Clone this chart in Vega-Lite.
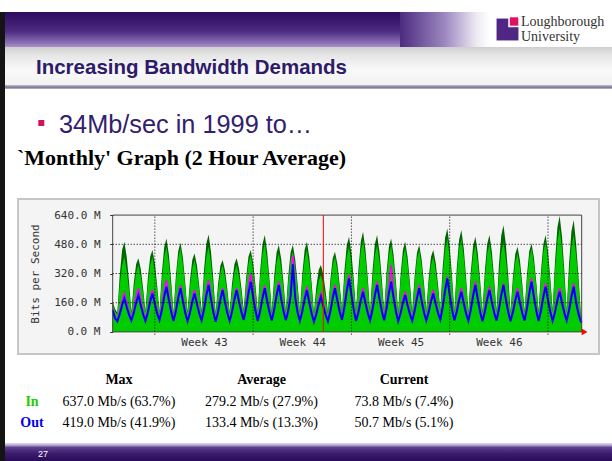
{
"$schema": "https://vega.github.io/schema/vega-lite/v6.json",
"background": "#ffffff",
"padding": {"left": 0, "top": 12, "right": 0, "bottom": 0},
"config": {"view": {"stroke": null}, "concat": {"spacing": 0}},
"spacing": 0,
"hconcat": [
 {"width": 5, "height": 449, "view": {"fill": "#141414", "stroke": null}, "data": {"values": []}, "mark": "point"},
 {"spacing": 0, "vconcat": [
  {"spacing": 0, "hconcat": [
   {"width": 395, "height": 35, "view": {"stroke": null, "fill": {"gradient": "linear", "x1": 0, "y1": 0, "x2": 0, "y2": 1, "stops": [{"offset": 0, "color": "#2c0b5e"}, {"offset": 0.55, "color": "#4c2b80"}, {"offset": 0.88, "color": "#8b70b6"}, {"offset": 1, "color": "#a892c8"}]}}, "data": {"values": []}, "mark": "point"},
   {"width": 90, "height": 35, "view": {"stroke": null, "fill": {"gradient": "linear", "x1": 0, "y1": 0, "x2": 1, "y2": 0, "stops": [{"offset": 0, "color": "#4c2b80"}, {"offset": 0.5, "color": "#9d88c0"}, {"offset": 0.85, "color": "#eeeaf3"}, {"offset": 1, "color": "#ffffff"}]}}, "data": {"values": []}, "mark": "point"},
   {"width": 122, "height": 35, "view": {"stroke": null, "fill": "#ffffff"}, "data": {"values": [{"a": "Loughborough", "b": "University"}]}, "layer": [
     {"mark": {"type": "point", "shape": "square", "filled": true, "size": 480, "color": "#4f2683", "opacity": 1}, "encoding": {"x": {"value": 17.5}, "y": {"value": 17.5}}},
     {"mark": {"type": "point", "shape": "square", "filled": true, "size": 110, "color": "#ffffff", "opacity": 1}, "encoding": {"x": {"value": 23.5}, "y": {"value": 10}}},
     {"mark": {"type": "point", "shape": "square", "filled": true, "size": 70, "color": "#e0115f", "opacity": 1}, "encoding": {"x": {"value": 24}, "y": {"value": 9.5}}},
     {"mark": {"type": "text", "font": "Liberation Serif", "fontSize": 14, "color": "#333333", "align": "left", "baseline": "middle"}, "encoding": {"text": {"field": "a"}, "x": {"value": 31}, "y": {"value": 10}}},
     {"mark": {"type": "text", "font": "Liberation Serif", "fontSize": 14, "color": "#333333", "align": "left", "baseline": "middle"}, "encoding": {"text": {"field": "b"}, "x": {"value": 31}, "y": {"value": 25}}}
   ]}
  ]},
  {"width": 607, "height": 42, "view": {"stroke": null, "fill": {"gradient": "linear", "x1": 0, "y1": 0, "x2": 0, "y2": 1, "stops": [{"offset": 0, "color": "#cfcfcf"}, {"offset": 0.2, "color": "#e6e6e6"}, {"offset": 0.55, "color": "#f9f9f9"}, {"offset": 0.9, "color": "#f2f2f2"}, {"offset": 0.92, "color": "#a9a3bd"}, {"offset": 0.97, "color": "#7d7899"}, {"offset": 1, "color": "#c9c6d6"}]}},
   "data": {"values": [{"s": "Increasing Bandwidth Demands"}]},
   "mark": {"type": "text", "font": "Liberation Sans", "fontWeight": "bold", "fontSize": 20.5, "color": "#2d1b69", "align": "left", "baseline": "middle"},
   "encoding": {"text": {"field": "s"}, "x": {"value": 31}, "y": {"value": 21}}},
  {"width": 607, "height": 105, "view": {"stroke": null, "fill": "#ffffff"}, "data": {"values": [{"a": "34Mb/sec in 1999 to…", "b": "`Monthly' Graph (2 Hour Average)"}]}, "layer": [
    {"mark": {"type": "point", "shape": "square", "filled": true, "size": 36, "color": "#d0135f", "opacity": 1}, "encoding": {"x": {"value": 36.3}, "y": {"value": 34}}},
    {"mark": {"type": "text", "font": "Liberation Sans", "fontSize": 25.3, "color": "#32206e", "align": "left", "baseline": "alphabetic"}, "encoding": {"text": {"field": "a"}, "x": {"value": 54}, "y": {"value": 44}}},
    {"mark": {"type": "text", "font": "Liberation Serif", "fontWeight": "bold", "fontSize": 22, "color": "#000000", "align": "left", "baseline": "alphabetic"}, "encoding": {"text": {"field": "b"}, "x": {"value": 12}, "y": {"value": 76}}}
  ]},
  {"width": 607, "height": 168,
   "data": {"values": [
{"t":0,"i":150,"p":165,"o":118,"q":125},{"t":0.17,"i":110,"p":125,"o":75,"q":80},{"t":0.33,"i":95,"p":105,"o":58,"q":63},{"t":0.5,"i":254,"p":310,"o":96,"q":109},{"t":0.67,"i":364,"p":449,"o":146,"q":170},{"t":0.83,"i":412,"p":494,"o":184,"q":211},
{"t":1,"i":334,"p":411,"o":135,"q":156},{"t":1.17,"i":225,"p":270,"o":93,"q":105},{"t":1.33,"i":100,"p":110,"o":62,"q":67},{"t":1.5,"i":233,"p":267,"o":104,"q":120},{"t":1.67,"i":326,"p":372,"o":160,"q":191},{"t":1.83,"i":366,"p":403,"o":202,"q":239},
{"t":2,"i":301,"p":344,"o":145,"q":172},{"t":2.17,"i":209,"p":236,"o":96,"q":110},{"t":2.33,"i":105,"p":115,"o":60,"q":65},{"t":2.5,"i":259,"p":293,"o":105,"q":116},{"t":2.67,"i":366,"p":412,"o":166,"q":184},{"t":2.83,"i":412,"p":449,"o":211,"q":230},
{"t":3,"i":334,"p":377,"o":152,"q":168},{"t":3.17,"i":225,"p":252,"o":101,"q":111},{"t":3.33,"i":100,"p":110,"o":64,"q":69},{"t":3.5,"i":284,"p":322,"o":119,"q":135},{"t":3.67,"i":412,"p":465,"o":193,"q":223},{"t":3.83,"i":467,"p":512,"o":248,"q":284},
{"t":4,"i":374,"p":423,"o":173,"q":200},{"t":4.17,"i":244,"p":274,"o":107,"q":121},{"t":4.33,"i":95,"p":105,"o":60,"q":65},{"t":4.5,"i":277,"p":308,"o":114,"q":124},{"t":4.67,"i":404,"p":445,"o":185,"q":201},{"t":4.83,"i":458,"p":489,"o":239,"q":255},
{"t":5,"i":369,"p":407,"o":167,"q":182},{"t":5.17,"i":243,"p":267,"o":103,"q":112},{"t":5.33,"i":100,"p":110,"o":58,"q":63},{"t":5.5,"i":247,"p":280,"o":104,"q":115},{"t":5.67,"i":350,"p":396,"o":165,"q":183},{"t":5.83,"i":394,"p":430,"o":211,"q":230},
{"t":6,"i":322,"p":364,"o":151,"q":167},{"t":6.17,"i":221,"p":247,"o":99,"q":109},{"t":6.33,"i":105,"p":115,"o":62,"q":67},{"t":6.5,"i":286,"p":335,"o":121,"q":134},{"t":6.67,"i":413,"p":485,"o":199,"q":223},{"t":6.83,"i":467,"p":534,"o":257,"q":284},
{"t":7,"i":374,"p":439,"o":177,"q":198},{"t":7.17,"i":244,"p":283,"o":106,"q":118},{"t":7.33,"i":95,"p":105,"o":56,"q":61},{"t":7.5,"i":231,"p":260,"o":108,"q":116},{"t":7.67,"i":325,"p":364,"o":177,"q":190},{"t":7.83,"i":366,"p":394,"o":229,"q":240},
{"t":8,"i":300,"p":336,"o":161,"q":173},{"t":8.17,"i":206,"p":229,"o":102,"q":110},{"t":8.33,"i":100,"p":110,"o":60,"q":65},{"t":8.5,"i":233,"p":267,"o":111,"q":119},{"t":8.67,"i":326,"p":372,"o":178,"q":191},{"t":8.83,"i":366,"p":403,"o":229,"q":240},
{"t":9,"i":302,"p":345,"o":164,"q":176},{"t":9.17,"i":212,"p":239,"o":107,"q":115},{"t":9.33,"i":110,"p":120,"o":66,"q":71},{"t":9.5,"i":266,"p":295,"o":129,"q":148},{"t":9.67,"i":374,"p":413,"o":212,"q":249},{"t":9.83,"i":421,"p":449,"o":275,"q":321},
{"t":10,"i":342,"p":378,"o":189,"q":222},{"t":10.17,"i":231,"p":254,"o":114,"q":131},{"t":10.33,"i":105,"p":115,"o":60,"q":65},{"t":10.5,"i":295,"p":333,"o":114,"q":124},{"t":10.67,"i":428,"p":482,"o":185,"q":201},{"t":10.83,"i":485,"p":531,"o":239,"q":255},
{"t":11,"i":389,"p":439,"o":168,"q":183},{"t":11.17,"i":254,"p":284,"o":106,"q":115},{"t":11.33,"i":100,"p":110,"o":62,"q":67},{"t":11.5,"i":265,"p":303,"o":121,"q":131},{"t":11.67,"i":381,"p":435,"o":199,"q":217},{"t":11.83,"i":430,"p":476,"o":257,"q":275},
{"t":12,"i":349,"p":399,"o":180,"q":196},{"t":12.17,"i":235,"p":265,"o":112,"q":122},{"t":12.33,"i":105,"p":115,"o":64,"q":69},{"t":12.5,"i":273,"p":306,"o":115,"q":125},{"t":12.67,"i":390,"p":436,"o":195,"q":220},{"t":12.83,"i":440,"p":476,"o":370,"q":419},
{"t":13,"i":355,"p":397,"o":185,"q":210},{"t":13.17,"i":236,"p":262,"o":105,"q":115},{"t":13.33,"i":100,"p":110,"o":60,"q":65},{"t":13.5,"i":275,"p":313,"o":111,"q":122},{"t":13.67,"i":397,"p":450,"o":178,"q":196},{"t":13.83,"i":449,"p":494,"o":229,"q":248},
{"t":14,"i":361,"p":410,"o":160,"q":176},{"t":14.17,"i":237,"p":267,"o":99,"q":109},{"t":14.33,"i":95,"p":105,"o":56,"q":61},{"t":14.5,"i":204,"p":246,"o":97,"q":107},{"t":14.67,"i":279,"p":340,"o":152,"q":170},{"t":14.83,"i":312,"p":366,"o":193,"q":211},
{"t":15,"i":259,"p":315,"o":139,"q":155},{"t":15.17,"i":185,"p":219,"o":92,"q":102},{"t":15.33,"i":100,"p":110,"o":58,"q":63},{"t":15.5,"i":256,"p":285,"o":112,"q":122},{"t":15.67,"i":365,"p":403,"o":185,"q":203},{"t":15.83,"i":412,"p":439,"o":239,"q":257},
{"t":16,"i":337,"p":372,"o":170,"q":186},{"t":16.17,"i":231,"p":254,"o":109,"q":119},{"t":16.33,"i":110,"p":120,"o":66,"q":71},{"t":16.5,"i":289,"p":332,"o":134,"q":145},{"t":16.67,"i":413,"p":475,"o":225,"q":243},{"t":16.83,"i":467,"p":522,"o":293,"q":312},
{"t":17,"i":377,"p":433,"o":200,"q":216},{"t":17.17,"i":250,"p":284,"o":118,"q":128},{"t":17.33,"i":105,"p":115,"o":60,"q":65},{"t":17.5,"i":304,"p":342,"o":108,"q":119},{"t":17.67,"i":443,"p":497,"o":172,"q":190},{"t":17.83,"i":503,"p":549,"o":220,"q":239},
{"t":18,"i":402,"p":452,"o":157,"q":173},{"t":18.17,"i":261,"p":291,"o":102,"q":112},{"t":18.33,"i":100,"p":110,"o":62,"q":67},{"t":18.5,"i":288,"p":331,"o":121,"q":131},{"t":18.67,"i":420,"p":482,"o":199,"q":217},{"t":18.83,"i":476,"p":531,"o":257,"q":275},
{"t":19,"i":383,"p":439,"o":180,"q":196},{"t":19.17,"i":253,"p":287,"o":112,"q":122},{"t":19.33,"i":105,"p":115,"o":64,"q":69},{"t":19.5,"i":291,"p":324,"o":127,"q":147},{"t":19.67,"i":420,"p":466,"o":212,"q":247},{"t":19.83,"i":476,"p":512,"o":275,"q":366},
{"t":20,"i":382,"p":424,"o":188,"q":217},{"t":20.17,"i":250,"p":276,"o":112,"q":127},{"t":20.33,"i":100,"p":110,"o":58,"q":63},{"t":20.5,"i":279,"p":312,"o":101,"q":111},{"t":20.67,"i":404,"p":450,"o":159,"q":177},{"t":20.83,"i":458,"p":494,"o":202,"q":220},
{"t":21,"i":369,"p":411,"o":145,"q":161},{"t":21.17,"i":243,"p":269,"o":96,"q":106},{"t":21.33,"i":100,"p":110,"o":60,"q":65},{"t":21.5,"i":275,"p":304,"o":114,"q":124},{"t":21.67,"i":397,"p":435,"o":185,"q":203},{"t":21.83,"i":449,"p":476,"o":239,"q":257},
{"t":22,"i":363,"p":398,"o":168,"q":184},{"t":22.17,"i":243,"p":266,"o":106,"q":116},{"t":22.33,"i":105,"p":115,"o":62,"q":67},{"t":22.5,"i":259,"p":293,"o":107,"q":118},{"t":22.67,"i":366,"p":412,"o":166,"q":184},{"t":22.83,"i":412,"p":449,"o":211,"q":230},
{"t":23,"i":337,"p":380,"o":153,"q":169},{"t":23.17,"i":231,"p":258,"o":102,"q":112},{"t":23.33,"i":110,"p":120,"o":66,"q":71},{"t":23.5,"i":311,"p":354,"o":134,"q":142},{"t":23.67,"i":452,"p":514,"o":225,"q":236},{"t":23.83,"i":512,"p":567,"o":293,"q":302},
{"t":24,"i":410,"p":466,"o":201,"q":211},{"t":24.17,"i":268,"p":302,"o":120,"q":127},{"t":24.33,"i":105,"p":115,"o":62,"q":67},{"t":24.5,"i":309,"p":347,"o":109,"q":120},{"t":24.67,"i":451,"p":505,"o":173,"q":191},{"t":24.83,"i":512,"p":558,"o":220,"q":239},
{"t":25,"i":409,"p":459,"o":156,"q":172},{"t":25.17,"i":265,"p":295,"o":100,"q":110},{"t":25.33,"i":100,"p":110,"o":60,"q":65},{"t":25.5,"i":288,"p":326,"o":119,"q":129},{"t":25.67,"i":420,"p":474,"o":198,"q":216},{"t":25.83,"i":476,"p":522,"o":257,"q":275},
{"t":26,"i":382,"p":432,"o":177,"q":193},{"t":26.17,"i":250,"p":280,"o":108,"q":118},{"t":26.33,"i":100,"p":110,"o":58,"q":63},{"t":26.5,"i":293,"p":331,"o":109,"q":120},{"t":26.67,"i":427,"p":481,"o":178,"q":196},{"t":26.83,"i":485,"p":531,"o":229,"q":248},
{"t":27,"i":390,"p":440,"o":162,"q":178},{"t":27.17,"i":257,"p":287,"o":104,"q":114},{"t":27.33,"i":105,"p":115,"o":62,"q":67},{"t":27.5,"i":300,"p":361,"o":121,"q":129},{"t":27.67,"i":436,"p":528,"o":199,"q":210},{"t":27.83,"i":494,"p":585,"o":257,"q":266},
{"t":28,"i":396,"p":479,"o":177,"q":187},{"t":28.17,"i":258,"p":306,"o":108,"q":115},{"t":28.33,"i":100,"p":110,"o":58,"q":63},{"t":28.5,"i":265,"p":299,"o":107,"q":118},{"t":28.67,"i":381,"p":427,"o":171,"q":189},{"t":28.83,"i":430,"p":467,"o":220,"q":239},
{"t":29,"i":349,"p":392,"o":157,"q":173},{"t":29.17,"i":235,"p":262,"o":102,"q":112},{"t":29.33,"i":105,"p":115,"o":62,"q":67},{"t":29.5,"i":282,"p":311,"o":126,"q":136},{"t":29.67,"i":405,"p":443,"o":211,"q":229},{"t":29.83,"i":458,"p":485,"o":275,"q":293},
{"t":30,"i":370,"p":405,"o":189,"q":205},{"t":30.17,"i":246,"p":269,"o":114,"q":124},{"t":30.33,"i":105,"p":115,"o":60,"q":65},{"t":30.5,"i":300,"p":334,"o":116,"q":126},{"t":30.67,"i":436,"p":482,"o":192,"q":210},{"t":30.83,"i":494,"p":531,"o":248,"q":266},
{"t":31,"i":398,"p":441,"o":173,"q":189},{"t":31.17,"i":264,"p":291,"o":107,"q":117},{"t":31.33,"i":110,"p":120,"o":60,"q":65},{"t":31.5,"i":339,"p":389,"o":108,"q":119},{"t":31.67,"i":498,"p":573,"o":172,"q":190},{"t":31.83,"i":567,"p":637,"o":220,"q":239},
{"t":32,"i":452,"p":520,"o":157,"q":173},{"t":32.17,"i":290,"p":330,"o":102,"q":112},{"t":32.33,"i":105,"p":115,"o":62,"q":67},{"t":32.5,"i":318,"p":374,"o":118,"q":128},{"t":32.67,"i":467,"p":552,"o":192,"q":210},{"t":32.83,"i":531,"p":613,"o":248,"q":266},
{"t":33,"i":420,"p":485,"o":160,"q":175},{"t":33.17,"i":270,"p":305,"o":100,"q":110},{"t":33.33,"i":100,"p":112,"o":58,"q":63},{"t":33.4,"i":74,"p":82,"o":51,"q":55}
   ]},
   "layer": [
    {"data": {"values": [{}]}, "mark": {"type": "rect", "fill": "#f4f4f4", "stroke": "#c6c6c6", "strokeWidth": 2},
     "encoding": {
      "x": {"datum": -6.744, "type": "quantitative", "scale": {"domain": [0, 33.4], "range": [107.7, 576.7], "nice": false, "zero": false},
            "axis": {"title": null, "orient": "bottom", "offset": -30.1, "values": [6.5, 13.5, 20.5, 27.5], "labelExpr": "'Week ' + round(42 + (datum.value + 0.5) / 7)", "domain": false, "ticks": false, "grid": false, "labelPadding": 5, "labelFont": "DejaVu Sans Mono", "labelFontSize": 11, "labelColor": "#333333", "zindex": 1}},
      "x2": {"datum": 34.632},
      "y": {"datum": 728.2, "type": "quantitative", "scale": {"domain": [0, 640], "range": [137.9, 21.1], "nice": false, "zero": false},
            "axis": {"title": "Bits per Second", "orient": "left", "offset": -107.7, "values": [0, 160, 320, 480, 640], "labelExpr": "format(datum.value, '.1f') + ' M'", "domain": false, "grid": false, "tickSize": 3, "tickColor": "#333333", "labelPadding": 9.7, "labelFont": "DejaVu Sans Mono", "labelFontSize": 11, "labelColor": "#333333", "titleFont": "DejaVu Sans Mono", "titleFontSize": 11, "titleFontWeight": "normal", "titleColor": "#333333", "titleX": -77, "titleBaseline": "middle", "zindex": 1}},
      "y2": {"datum": -121.1}}},
    {"mark": {"type": "area", "color": "#006600", "opacity": 1}, "encoding": {"x": {"field": "t", "type": "quantitative"}, "y": {"field": "p", "type": "quantitative"}, "y2": {"datum": 0}}},
    {"mark": {"type": "area", "color": "#00cc00", "opacity": 1}, "encoding": {"x": {"field": "t", "type": "quantitative"}, "y": {"field": "i", "type": "quantitative"}, "y2": {"datum": 0}}},
    {"mark": {"type": "line", "color": "#ff00ff", "strokeWidth": 1.8}, "encoding": {"x": {"field": "t", "type": "quantitative"}, "y": {"field": "q", "type": "quantitative"}}},
    {"mark": {"type": "line", "color": "#0000ff", "strokeWidth": 2}, "encoding": {"x": {"field": "t", "type": "quantitative"}, "y": {"field": "o", "type": "quantitative"}}},
    {"data": {"values": [{"g": 160}, {"g": 320}, {"g": 480}]}, "mark": {"type": "rule", "color": "#000000", "strokeDash": [1, 2], "strokeWidth": 1}, "encoding": {"y": {"field": "g", "type": "quantitative"}, "x": {"datum": 0}, "x2": {"datum": 33.4}}},
    {"data": {"values": [{"w": 3}, {"w": 10}, {"w": 17}, {"w": 24}, {"w": 31}]}, "mark": {"type": "rule", "color": "#000000", "strokeDash": [1, 2], "strokeWidth": 1}, "encoding": {"x": {"field": "w", "type": "quantitative"}, "y": {"datum": -15}, "y2": {"datum": 640}}},
    {"data": {"values": [{"m": 15}]}, "mark": {"type": "rule", "color": "#ff0000", "strokeWidth": 1}, "encoding": {"x": {"field": "m", "type": "quantitative"}, "y": {"datum": 0}, "y2": {"datum": 640}}},
    {"data": {"values": [{}]}, "mark": {"type": "rect", "fillOpacity": 0, "stroke": "#444444", "strokeWidth": 1}, "encoding": {"x": {"datum": 0}, "x2": {"datum": 33.4}, "y": {"datum": 0}, "y2": {"datum": 640}}},
    {"data": {"values": [{}]}, "mark": {"type": "point", "shape": "triangle-right", "filled": true, "color": "#ff0000", "size": 45, "opacity": 1}, "encoding": {"x": {"datum": 33.6}, "y": {"datum": 0}}}
   ]},
  {"width": 607, "height": 81, "view": {"stroke": null, "fill": "#ffffff"},
   "data": {"values": [
    {"r": "h", "c": "Max", "s": "Max"}, {"r": "h", "c": "Average", "s": "Average"}, {"r": "h", "c": "Current", "s": "Current"},
    {"r": "In", "c": "Max", "s": "637.0 Mb/s (63.7%)"}, {"r": "In", "c": "Average", "s": "279.2 Mb/s (27.9%)"}, {"r": "In", "c": "Current", "s": "73.8 Mb/s (7.4%)"},
    {"r": "Out", "c": "Max", "s": "419.0 Mb/s (41.9%)"}, {"r": "Out", "c": "Average", "s": "133.4 Mb/s (13.3%)"}, {"r": "Out", "c": "Current", "s": "50.7 Mb/s (5.1%)"}
   ]},
   "layer": [
    {"transform": [{"filter": "datum.r == 'h'"}], "mark": {"type": "text", "font": "Liberation Serif", "fontWeight": "bold", "fontSize": 14, "color": "#000000", "baseline": "middle"},
     "encoding": {"text": {"field": "s"}, "x": {"field": "c", "type": "nominal", "scale": {"type": "point", "domain": ["Max", "Average", "Current"], "range": [114, 399], "padding": 0}, "axis": null}, "y": {"field": "r", "type": "nominal", "scale": {"type": "point", "domain": ["h", "In", "Out"], "range": [18, 61], "padding": 0}, "axis": null}}},
    {"transform": [{"filter": "datum.r != 'h'"}], "mark": {"type": "text", "font": "Liberation Serif", "fontSize": 14, "color": "#000000", "baseline": "middle"},
     "encoding": {"text": {"field": "s"}, "x": {"field": "c", "type": "nominal"}, "y": {"field": "r", "type": "nominal"}}},
    {"data": {"values": [{"r": "In", "s": "In"}, {"r": "Out", "s": "Out"}]}, "mark": {"type": "text", "font": "Liberation Serif", "fontWeight": "bold", "fontSize": 14, "baseline": "middle"},
     "encoding": {"text": {"field": "s"}, "x": {"value": 27}, "y": {"field": "r", "type": "nominal"}, "color": {"field": "r", "type": "nominal", "scale": {"domain": ["In", "Out"], "range": ["#22cc00", "#0000ee"]}, "legend": null}}}
   ]},
  {"width": 607, "height": 18, "view": {"stroke": null, "fill": {"gradient": "linear", "x1": 0, "y1": 0, "x2": 0, "y2": 1, "stops": [{"offset": 0, "color": "#e4def0"}, {"offset": 0.12, "color": "#b7a6d0"}, {"offset": 0.25, "color": "#5d3f8e"}, {"offset": 0.6, "color": "#3a1a6c"}, {"offset": 1, "color": "#2a0c5a"}]}},
   "data": {"values": [{"s": "27"}]},
   "mark": {"type": "text", "font": "Liberation Sans", "fontSize": 9, "color": "#ffffff", "baseline": "middle"},
   "encoding": {"text": {"field": "s"}, "x": {"value": 38}, "y": {"value": 11}}}
 ]}
]
}
